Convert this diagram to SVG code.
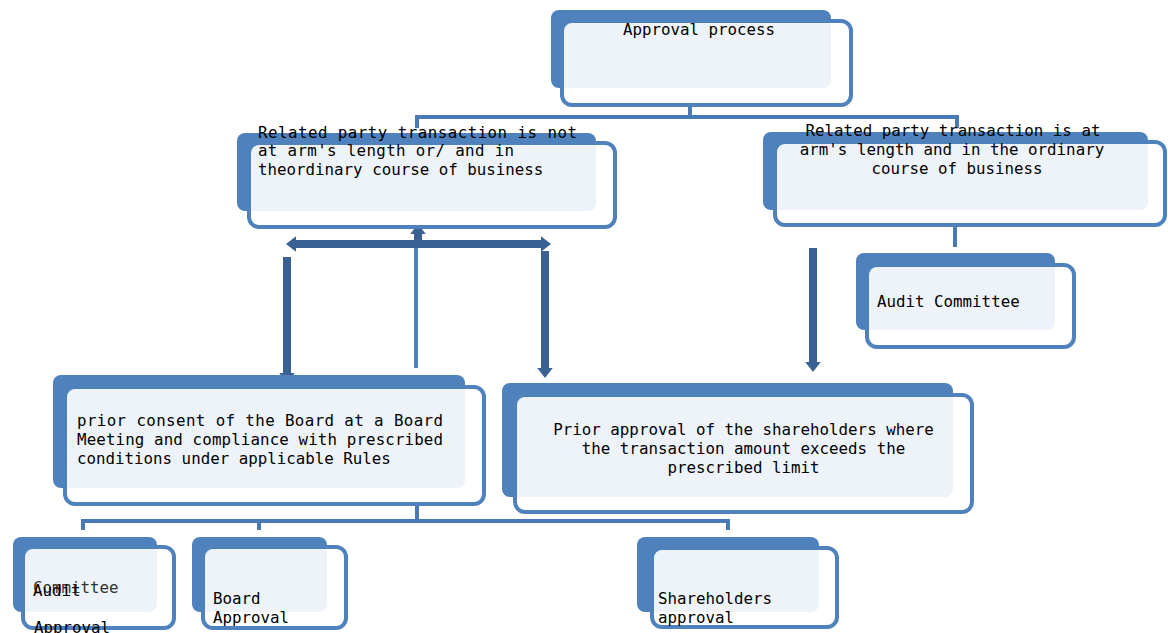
<svg xmlns="http://www.w3.org/2000/svg" width="1168" height="633" viewBox="0 0 1168 633">
<style>
.back{fill:#4f81bd}
.front{fill:#ffffff;fill-opacity:0.9;stroke:#4f81bd;stroke-width:4}
.t{font-family:"DejaVu Sans Mono","Liberation Mono",monospace;font-size:15.8px;fill:#000}
.c{text-anchor:middle}
.line{fill:none;stroke:#4a7ab5;stroke-width:4}
.thick{fill:none;stroke:#3a6194;stroke-width:8}
</style>
<defs>
<marker id="head" markerUnits="userSpaceOnUse" markerWidth="20" markerHeight="20" viewBox="-1 -9 12 18" refX="0" refY="0" orient="auto-start-reverse">
<path d="M0,-7 L9,0 L0,7 Z" fill="#3a6194"/>
</marker>
</defs>
<rect width="1168" height="633" fill="#ffffff"/>
<g id="connectors">
<path class="line" d="M417,128 V117 H957 V128 M690,105 V117"/>
<path class="line" d="M955,225 V247"/>
<path class="line" style="stroke:#4f81bd" d="M416,244 V368"/>
<path class="line" d="M417,505 V521 M83,530 V521 H728 V530 M259,521 V530"/>
<path class="thick" d="M296,244 H541" marker-start="url(#head)" marker-end="url(#head)"/>
<path class="thick" d="M418,244 V234" marker-end="url(#head)"/>
<path class="thick" d="M287,257 V373" marker-end="url(#head)"/>
<path class="thick" d="M545,251 V368" marker-end="url(#head)"/>
<path class="thick" d="M813,248 V362" marker-end="url(#head)"/>
</g>
<g id="approval-process">
<rect class="back" x="551" y="10" width="280" height="78" rx="8"/>
<rect class="front" x="562" y="21" width="289" height="84" rx="10"/>
<text class="t c" x="699" y="35">Approval process</text>
</g>
<g id="not-arms-length">
<rect class="back" x="237" y="133" width="359" height="78" rx="8"/>
<rect class="front" x="249" y="143" width="366" height="84" rx="10"/>
<text class="t" x="258" y="138" textLength="319" lengthAdjust="spacing">Related party transaction is not</text>
<text class="t" x="258" y="156" textLength="256" lengthAdjust="spacing">at arm's length or/ and in</text>
<text class="t" x="258" y="175">theordinary course of business</text>
</g>
<g id="arms-length">
<rect class="back" x="763" y="132" width="385" height="78" rx="8"/>
<rect class="front" x="775" y="142" width="390" height="83" rx="10"/>
<text class="t c" x="953" y="136">Related party transaction is at</text>
<text class="t c" x="952" y="155">arm's length and in the ordinary</text>
<text class="t c" x="957" y="174">course of business</text>
</g>
<g id="audit-committee">
<rect class="back" x="856" y="253" width="199" height="77" rx="8"/>
<rect class="front" x="867" y="265" width="207" height="82" rx="10"/>
<text class="t" x="877" y="307">Audit Committee</text>
</g>
<g id="board-consent">
<rect class="back" x="53" y="375" width="412" height="113" rx="8"/>
<rect class="front" x="65" y="387" width="419" height="117" rx="10"/>
<text class="t" x="77" y="426" textLength="366" lengthAdjust="spacing">prior consent of the Board at a Board</text>
<text class="t" x="77" y="445" textLength="366" lengthAdjust="spacing">Meeting and compliance with prescribed</text>
<text class="t" x="77" y="464">conditions under applicable Rules</text>
</g>
<g id="shareholders-prior">
<rect class="back" x="502" y="383" width="451" height="114" rx="8"/>
<rect class="front" x="515" y="395" width="457" height="117" rx="10"/>
<text class="t c" x="743.5" y="435">Prior approval of the shareholders where</text>
<text class="t c" x="743.5" y="454">the transaction amount exceeds the</text>
<text class="t c" x="743.5" y="473">prescribed limit</text>
</g>
<g id="audit-committee-approval">
<rect class="back" x="13" y="537" width="144" height="75" rx="8"/>
<rect class="front" x="23" y="547" width="151" height="81" rx="10"/>
<text class="t" x="33" y="593" style="fill:#333">Committee</text>
<text class="t" x="33" y="596">Audit</text>
<text class="t" x="34" y="633">Approval</text>
</g>
<g id="board-approval">
<rect class="back" x="192" y="537" width="135" height="75" rx="8"/>
<rect class="front" x="203" y="547" width="143" height="81" rx="10"/>
<text class="t" x="213" y="604">Board</text>
<text class="t" x="213" y="623">Approval</text>
</g>
<g id="shareholders-approval">
<rect class="back" x="637" y="537" width="182" height="75" rx="8"/>
<rect class="front" x="652" y="548" width="185" height="79" rx="10"/>
<text class="t" x="658" y="604">Shareholders</text>
<text class="t" x="658" y="623">approval</text>
</g>
</svg>
